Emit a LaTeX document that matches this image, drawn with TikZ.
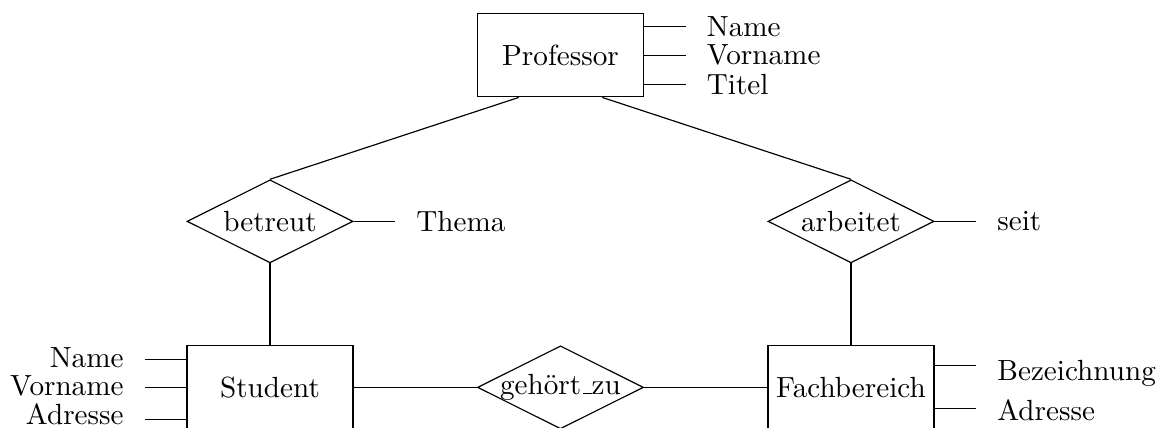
\documentclass[tikz,border=0pt]{standalone}
\usepackage{amsmath}
\usetikzlibrary{shapes,positioning,calc}

\begin{document}
\begin{tikzpicture}
\tikzset{
	entity/.style={draw, minimum width=2cm, minimum height=1cm, inner sep=1pt},
	relation/.style={draw, diamond, minimum width=2cm, minimum height=1cm, inner sep=0pt},
	attrib/.style={inner xsep=0.25cm, inner ysep=1pt}
}

\def\ecartX{3.5}%cm
\def\ecartY{-2}%cm

\useasboundingbox (-6.753,-4.478) rectangle (7.295,0.667);

% entities
\node[entity] (prof) at (0,0) {Professor};
\node[entity] (student) at (-\ecartX,2*\ecartY) {Student};
\node[entity] (fach) at (\ecartX,2*\ecartY) {Fachbereich};

% relations
\node[relation] (betreut) at (-\ecartX,\ecartY) {\makebox[0pt]{betreut}};
\node[relation] (arbeitet) at (\ecartX,\ecartY) {\makebox[0pt]{arbeitet}};
\node[relation] (gehoert) at (0,2*\ecartY) {\makebox[0pt]{gehört\kern.06em\rule{.3em}{.4pt}zu}};

% attributes
\foreach \txt/\dy [count=\i] in {Name/0.35,Vorname/0,Titel/-0.35}{
	\node[attrib, right=5mm of prof.east, yshift=\dy cm] (pa\i) {\txt};
	\draw (prof.east |- pa\i) -- (pa\i);
}
% line y / baseline y
\foreach \txt/\ly/\ty [count=\i] in {Name/0.34/0.239,Vorname/0/-0.102,Adresse/-0.383/-0.443}{
	\coordinate (sl\i) at ($(student.west)+(-0.5,\ly)$);
	\draw (student.west |- sl\i) -- (sl\i);
	\node[attrib, anchor=base east] (sa\i) at ($(student.west)+(-0.5,\ty)$) {\txt};
}
\foreach \txt/\ly/\ty [count=\i] in {Bezeichnung/0.259/0.078,Adresse/-0.259/-0.404}{
	\coordinate (fl\i) at ($(fach.east)+(0.5,\ly)$);
	\draw (fach.east |- fl\i) -- (fl\i);
	\node[attrib, anchor=base west] (fa\i) at ($(fach.east)+(0.5,\ty)$) {\txt};
}
\node[attrib, right=5mm of betreut.east] (thema) {Thema};
\node[attrib, right=5mm of arbeitet.east] (seit) {seit};
\draw (betreut.east) -- (thema);
\draw (arbeitet.east) -- (seit);

% links
\draw ($(prof.south)!0.5!(prof.south west)$) -- (betreut.north);
\draw ($(prof.south)!0.5!(prof.south east)$) -- (arbeitet.north);
\draw (betreut) -- (student);
\draw (arbeitet) -- (fach);
\draw (student) -- (gehoert);
\draw (gehoert) -- (fach);

\end{tikzpicture}
\end{document}
